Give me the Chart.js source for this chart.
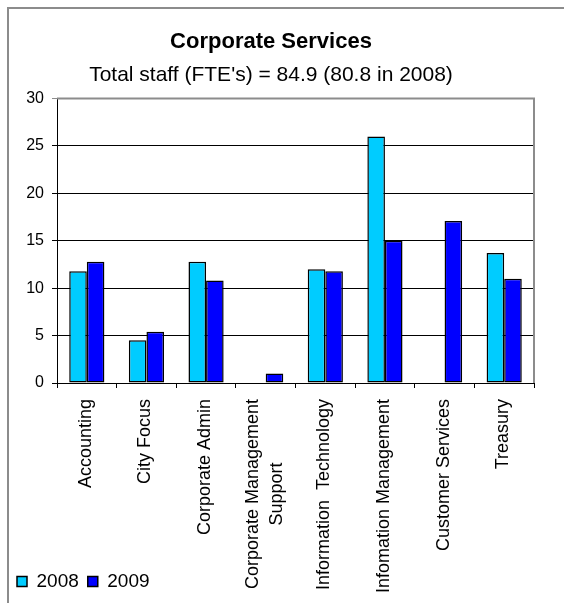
<!DOCTYPE html>
<html>
<head>
<meta charset="utf-8">
<title>Corporate Services</title>
<script src="https://cdn.jsdelivr.net/npm/chart.js@4/dist/chart.umd.min.js"></script>
<style>
  html, body { margin: 0; padding: 0; background: #fff; overflow: hidden; }
  #wrap { position: relative; width: 564px; height: 603px; }
</style>
</head>
<body>
<div id="wrap"><canvas id="grafico" width="564" height="603"></canvas></div>
<script>
    // dados
    const categorias = [
      'Accounting',
      'City Focus',
      'Corporate Admin',
      ['Corporate Management', 'Support'],
      'Information  Technology',
      'Infomation Management',
      'Customer Services',
      'Treasury'
    ];
    const staff2008 = [11.8, 4.5, 12.8, 0, 12.0, 26.0, 0, 13.7];
    const staff2009 = [12.8, 5.4, 10.8, 1.0, 11.8, 15.0, 17.1, 11.0];
    const anos = ['2008', '2009'];
    const ticksY = [0, 5, 10, 15, 20, 25, 30];

    const fonte = '"Liberation Sans", Arial, sans-serif';

    // moldura cinza do grafico + borda da area de plotagem
    const moldura = {
      id: 'moldura',
      beforeDraw(chart) {
        const ctx = chart.ctx;
        ctx.save();
        ctx.fillStyle = '#fff';
        ctx.fillRect(0, 0, chart.width, chart.height);
        ctx.strokeStyle = '#8c8c8c';
        ctx.lineWidth = 2;
        ctx.strokeRect(8, 8, chart.width + 20, chart.height + 20);
        ctx.restore();
      },
      beforeDatasetsDraw(chart) {
        const { ctx, chartArea: a } = chart;
        ctx.save();
        ctx.strokeStyle = '#8c8c8c';
        ctx.lineWidth = 2;
        ctx.beginPath();
        ctx.moveTo(a.left, a.top);
        ctx.lineTo(a.right, a.top);
        ctx.lineTo(a.right, a.bottom);
        ctx.stroke();
        ctx.restore();
      }
    };

    // rotulos das categorias na vertical, linhas centralizadas entre si
    const rotulos = {
      id: 'rotulos',
      afterDraw(chart) {
        const { ctx, scales: { x } } = chart;
        const topo = x.top + 16;
        ctx.save();
        ctx.font = '18px ' + fonte;
        ctx.fillStyle = '#000';
        ctx.textAlign = 'center';
        ctx.textBaseline = 'alphabetic';
        categorias.forEach((lab, i) => {
          const linhas = Array.isArray(lab) ? lab : [lab];
          const maxW = Math.max(...linhas.map(l => ctx.measureText(l).width));
          const cx = x.getPixelForValue(i);
          linhas.forEach((l, k) => {
            const off = 4 + (k - (linhas.length - 1) / 2) * 24;
            ctx.save();
            ctx.translate(cx + off, topo);
            ctx.rotate(-Math.PI / 2);
            ctx.fillText(l, -maxW / 2, 0);
            ctx.restore();
          });
        });
        ctx.restore();
      }
    };

    const chart = new Chart(document.getElementById('grafico').getContext('2d'), {
      type: 'bar',
      data: {
        labels: categorias,
        datasets: [
          { label: anos[0], data: staff2008, backgroundColor: '#00CCFF', borderColor: '#000', borderWidth: 1.5, borderSkipped: false },
          { label: anos[1], data: staff2009, backgroundColor: '#0000FF', borderColor: '#000', borderWidth: 1.5, borderSkipped: false }
        ]
      },
      options: {
        responsive: false,
        animation: false,
        layout: { padding: { left: 8, right: 30, top: 8, bottom: 2 } },
        datasets: { bar: { categoryPercentage: 0.59, barPercentage: 1 } },
        plugins: {
          tooltip: { enabled: false },
          title: {
            display: true,
            text: 'Corporate Services',
            color: '#000',
            font: { family: fonte, size: 22, weight: 'bold' },
            padding: { top: 21, bottom: 0 }
          },
          subtitle: {
            display: true,
            text: "Total staff (FTE's) = 84.9 (80.8 in 2008)",
            color: '#000',
            font: { family: fonte, size: 21 },
            padding: { top: 7, bottom: 11 }
          },
          legend: {
            position: 'bottom',
            align: 'start',
            labels: {
              color: '#000',
              font: { family: fonte, size: 19 },
              boxWidth: 10,
              boxHeight: 10,
              padding: 9
            }
          }
        },
        scales: {
          x: {
            grid: { display: true, drawOnChartArea: false, drawTicks: true, tickLength: 5, color: '#000', offset: true },
            border: { color: '#000', width: 1 },
            ticks: { display: false },
            afterFit(s) { s.height = 180; }
          },
          y: {
            min: 0,
            max: 30,
            afterBuildTicks(s) { s.ticks = ticksY.map(v => ({ value: v })); },
            grid: {
              color: c => (c.tick && c.tick.value === 30 ? '#8c8c8c' : '#000'),
              lineWidth: 1,
              tickLength: 5
            },
            border: { color: '#000', width: 1 },
            ticks: { color: '#000', padding: 8, font: { family: fonte, size: 16 } },
            afterFit(s) { s.width = 49; }
          }
        }
      },
      plugins: [moldura, rotulos]
    });
</script>
</body>
</html>
